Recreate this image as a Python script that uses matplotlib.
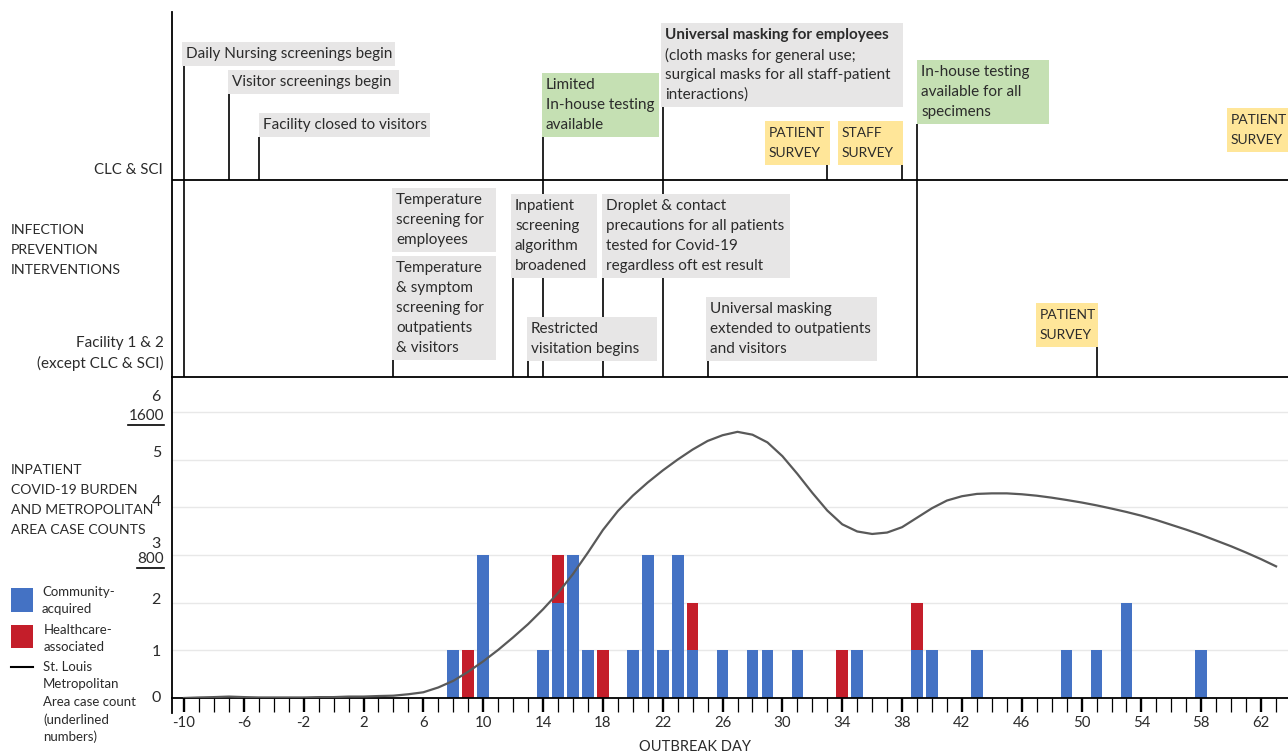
import matplotlib.pyplot as plt
import matplotlib.transforms as mtransforms
from matplotlib.patches import Rectangle

plt.rcParams['font.family'] = ['Lato', 'DejaVu Sans']
plt.rcParams['axes.unicode_minus'] = False
TXT = '#2b2b2b'
BLUE = '#4472C4'
RED = '#C41E2A'
GREY = '#E7E6E6'
GREEN = '#C5E0B3'
YELLOW = '#FFE699'

# inpatient covid-19 cases per outbreak day
community_days = [8, 10, 14, 15, 16, 17, 20, 21, 22, 23, 24, 26, 28, 29, 31, 35, 39, 40, 43, 49, 51, 53, 58]
community_counts = [1, 3, 1, 2, 3, 1, 1, 3, 1, 3, 1, 1, 1, 1, 1, 1, 1, 1, 1, 1, 1, 2, 1]
healthcare_days = [9, 15, 18, 24, 34, 39]
healthcare_counts = [1, 1, 1, 1, 1, 1]

# St. Louis metro case count (right scale: 1600 cases == 6 on the left scale)
metro_days = list(range(-10, 64))
metro_cases = [0, 3, 5, 8, 5, 3, 3, 3, 3, 5,
               5, 8, 8, 11, 13, 21, 32, 59, 96, 147,
               205, 269, 339, 413, 496, 587, 693, 813, 939, 1045,
               1131, 1205, 1272, 1333, 1389, 1437, 1469, 1488, 1472, 1429,
               1352, 1253, 1147, 1048, 971, 931, 917, 925, 955, 1008,
               1061, 1104, 1128, 1141, 1144, 1144, 1139, 1131, 1120, 1107,
               1093, 1077, 1059, 1040, 1019, 995, 968, 941, 912, 880,
               848, 813, 776, 736]
CASES_PER_UNIT = 1600 / 6

# interventions, CLC & SCI
clc_labels = ['Daily Nursing screenings begin', 'Visitor screenings begin',
              'Facility closed to visitors', 'Limited\nIn-house testing\navailable',
              'Universal masking for employees\n(cloth masks for general use;\nsurgical masks for all staff-patient\ninteractions)',
              'PATIENT\nSURVEY', 'STAFF\nSURVEY',
              'In-house testing\navailable for all\nspecimens', 'PATIENT\nSURVEY']
clc_days = [-10, -7, -5, 14, 22, 33, 38, 39, None]
clc_colors = [GREY, GREY, GREY, GREEN, GREY, YELLOW, YELLOW, GREEN, YELLOW]

# interventions, facility 1 & 2
fac_labels = ['Temperature\nscreening for\nemployees',
              'Temperature\n& symptom\nscreening for\noutpatients\n& visitors',
              'Inpatient\nscreening\nalgorithm\nbroadened',
              'Droplet & contact\nprecautions for all patients\ntested for Covid-19\nregardless oft est result',
              'Restricted\nvisitation begins',
              'Universal masking\nextended to outpatients\nand visitors',
              'PATIENT\nSURVEY']
fac_days = [None, 4, 12, 18, 13, 25, 51]
fac_colors = [GREY, GREY, GREY, GREY, GREY, GREY, YELLOW]

# layout (pixels from top-left)
clc_boxes = [(182, 42, 395, 66), (228, 70, 399, 94), (259, 113, 430, 137),
             (542, 73, 659, 137), (661, 23, 903, 107), (765, 121, 830, 165),
             (838, 121, 903, 165), (917, 60, 1049, 124), (1227, 108, 1292, 152)]
clc_spans = [(66, 377), (94, 180), (137, 180), (137, 377), (107, 377),
             (165, 180), (165, 180), (124, 377), None]
fac_boxes = [(392, 188, 496, 252), (392, 256, 496, 360), (511, 194, 597, 278),
             (602, 194, 790, 278), (527, 317, 657, 361), (706, 297, 877, 361),
             (1036, 303, 1098, 347)]
fac_spans = [None, (360, 377), (278, 377), (278, 377), (361, 377), (361, 377), (347, 377)]
ylabel_shift_px = [1, 0, 4, 12, 7, 8, 16]

W, H = 1288, 756
fig = plt.figure(figsize=(W / 100, H / 100), dpi=100)

PX_DAY = 14.96
x_lo = -10 - 12 / PX_DAY
x_hi = -10 + (W - 184) / PX_DAY

# bar chart
ax = fig.add_axes([172 / W, (H - 698) / H, (W - 172) / W, (698 - 377) / H])
ax.set_xlim(x_lo, x_hi)
ax.set_ylim(0, (698 - 377) / 47.7)
cnt = dict(zip(community_days, community_counts))
hc_bottom = [cnt.get(d, 0) for d in healthcare_days]
ax.bar(community_days, community_counts, width=0.78, color=BLUE, zorder=2)
ax.bar(healthcare_days, healthcare_counts, bottom=hc_bottom, width=0.78, color=RED, zorder=2)
ax.plot(metro_days, [c / CASES_PER_UNIT for c in metro_cases], color='#595959', lw=1.6,
        zorder=3, solid_joinstyle='round')

ax.set_yticks(range(0, 7))
ax.yaxis.grid(True, color='#e8e8e8', lw=1, zorder=0)
ax.set_axisbelow(True)
ax.tick_params(axis='y', length=0, pad=8, labelsize=11.5, labelcolor=TXT)
for lab, sh in zip(ax.get_yticklabels(), ylabel_shift_px):
    lab.set_transform(lab.get_transform() + mtransforms.ScaledTranslation(0, sh / 100, fig.dpi_scale_trans))
ax.set_xticks(range(-10, 63, 4))
ax.set_xticks(range(-10, 64), minor=True)
ax.tick_params(axis='x', which='major', length=10, width=1.7, pad=3, labelsize=10.8, labelcolor=TXT)
ax.tick_params(axis='x', which='minor', length=10, width=0.9)
for s in ['top', 'right']:
    ax.spines[s].set_visible(False)
ax.spines['left'].set_linewidth(1.3)
ax.spines['bottom'].set_linewidth(1.3)

# intervention panels
top = fig.add_axes([172 / W, (H - 377) / H, (W - 172) / W, (377 - 12) / H], sharex=ax)
top.set_ylim(377, 12)
top.axhline(180, color='black', lw=1.3)
for s in ['top', 'right']:
    top.spines[s].set_visible(False)
top.spines['left'].set_linewidth(1.3)
top.spines['bottom'].set_linewidth(1.3)
top.tick_params(which='both', left=False, bottom=False, labelleft=False, labelbottom=False)
for days, spans in [(clc_days, clc_spans), (fac_days, fac_spans)]:
    for d, sp in zip(days, spans):
        if d is None or sp is None:
            continue
        top.vlines(d, sp[0], sp[1], color='black', lw=1.2)

# overlay in pixel coordinates for boxes and side labels
ov = fig.add_axes([0, 0, 1, 1], zorder=5)
ov.set_xlim(0, W)
ov.set_ylim(H, 0)
ov.axis('off')


def draw_box(rect, label, color):
    x0, y0, x1, y1 = rect
    ov.add_patch(Rectangle((x0, y0), x1 - x0, y1 - y0, facecolor=color, edgecolor='none'))
    for i, line in enumerate(label.split('\n')):
        bold = line.startswith('Universal masking for')
        size = 10 if line.isupper() else 11
        ov.text(x0 + 4, y0 + 12 + 20 * i, line, va='center', ha='left', fontsize=size,
                color=TXT, fontweight='bold' if bold else 'normal', clip_on=True)


for rect, lab, col in zip(clc_boxes, clc_labels, clc_colors):
    draw_box(rect, lab, col)
for rect, lab, col in zip(fac_boxes, fac_labels, fac_colors):
    draw_box(rect, lab, col)

# side labels
ov.text(163, 170, 'CLC & SCI', ha='right', va='center', fontsize=10.8, color=TXT)
for i, line in enumerate(['INFECTION', 'PREVENTION', 'INTERVENTIONS']):
    ov.text(11, 230 + 20 * i, line, ha='left', va='center', fontsize=10.2, color=TXT)
ov.text(164, 343, 'Facility 1 & 2', ha='right', va='center', fontsize=11, color=TXT)
ov.text(164, 363, '(except CLC & SCI)', ha='right', va='center', fontsize=11, color=TXT)
for i, line in enumerate(['INPATIENT', 'COVID-19 BURDEN', 'AND METROPOLITAN', 'AREA CASE COUNTS']):
    ov.text(11, 470 + 20 * i, line, ha='left', va='center', fontsize=10.1, color=TXT)

# legend
ov.add_patch(Rectangle((11, 588), 22, 24, facecolor=BLUE, edgecolor='none'))
ov.add_patch(Rectangle((11, 625), 22, 23, facecolor=RED, edgecolor='none'))
ov.plot([11, 33], [667, 667], color='black', lw=1.5)
for i, line in enumerate(['Community-', 'acquired']):
    ov.text(42, 592 + 17 * i, line, va='center', fontsize=9.5, color=TXT)
for i, line in enumerate(['Healthcare-', 'associated']):
    ov.text(44, 630 + 17 * i, line, va='center', fontsize=9.5, color=TXT)
for i, line in enumerate(['St. Louis', 'Metropolitan', 'Area case count', '(underlined', 'numbers)']):
    ov.text(43, 667 + 17.5 * i, line, va='center', fontsize=9.5, color=TXT)

# left spine runs down past the zero line
ov.plot([172, 172], [698, 713], color='black', lw=1.3)
ov.text(695, 747, 'OUTBREAK DAY', ha='center', va='center', fontsize=10.5, color=TXT)

# underlined metro scale labels
metro_ticks = [1600, 800]
under = []
for c in metro_ticks:
    yy = 698 - c / CASES_PER_UNIT * 47.7 + 4
    t = ov.text(164, yy, str(c), ha='right', va='center', fontsize=11, color=TXT)
    under.append((t, yy))
fig.canvas.draw()
inv = ov.transData.inverted()
for t, yy in under:
    bb = t.get_window_extent()
    xa = inv.transform((bb.x0, bb.y0))[0]
    xb = inv.transform((bb.x1, bb.y0))[0]
    ov.plot([xa, xb], [yy + 9, yy + 9], color='black', lw=1.2)

fig.savefig('out.png', dpi=100)
